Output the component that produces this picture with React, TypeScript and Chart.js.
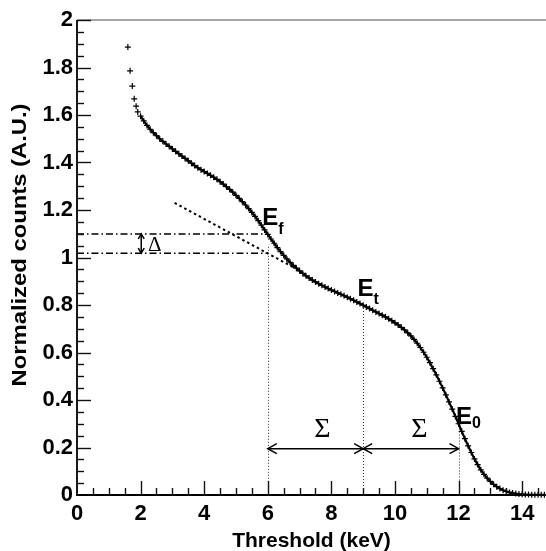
import { useEffect, useRef } from "react";
import { Chart, registerables } from "chart.js";

Chart.register(...registerables);

// ---- data ----
const THRESHOLD_KEV = [
  1.6, 1.67, 1.74, 1.8, 1.86, 1.91,
  2.0, 2.1, 2.2, 2.3, 2.4, 2.5, 2.6, 2.7, 2.8, 2.9,
  3.0, 3.1, 3.2, 3.3, 3.4, 3.5, 3.6, 3.7, 3.8, 3.9,
  4.0, 4.1, 4.2, 4.3, 4.4, 4.5, 4.6, 4.7, 4.8, 4.9,
  5.0, 5.1, 5.2, 5.3, 5.4, 5.5, 5.6, 5.7, 5.8, 5.9,
  6.0, 6.1, 6.2, 6.3, 6.4, 6.5, 6.6, 6.7, 6.8, 6.9,
  7.0, 7.1, 7.2, 7.3, 7.4, 7.5, 7.6, 7.7, 7.8, 7.9,
  8.0, 8.1, 8.2, 8.3, 8.4, 8.5, 8.6, 8.7, 8.8, 8.9,
  9.0, 9.1, 9.2, 9.3, 9.4, 9.5, 9.6, 9.7, 9.8, 9.9,
  10.0, 10.1, 10.2, 10.3, 10.4, 10.5, 10.6, 10.7, 10.8, 10.9,
  11.0, 11.1, 11.2, 11.3, 11.4, 11.5, 11.6, 11.7, 11.8, 11.9,
  12.0, 12.1, 12.2, 12.3, 12.4, 12.5, 12.6, 12.7, 12.8, 12.9,
  13.0, 13.1, 13.2, 13.3, 13.4, 13.5, 13.6, 13.7, 13.8, 13.9,
  14.0, 14.1, 14.2, 14.3, 14.4, 14.5, 14.6, 14.7,
];

const NORMALIZED_COUNTS = [
  1.886, 1.786, 1.722, 1.668, 1.637, 1.613,
  1.595, 1.575, 1.556, 1.54, 1.526, 1.513, 1.5, 1.489, 1.478, 1.468,
  1.457, 1.447, 1.437, 1.427, 1.417, 1.407, 1.397, 1.387, 1.378, 1.37,
  1.362, 1.354, 1.346, 1.338, 1.329, 1.319, 1.309, 1.298, 1.287, 1.275,
  1.262, 1.249, 1.235, 1.221, 1.206, 1.19, 1.173, 1.155, 1.136, 1.116,
  1.097, 1.078, 1.06, 1.042, 1.025, 1.009, 0.994, 0.98, 0.967, 0.955,
  0.944, 0.933, 0.923, 0.914, 0.905, 0.897, 0.89, 0.883, 0.876, 0.869,
  0.863, 0.857, 0.851, 0.845, 0.839, 0.833, 0.826, 0.82, 0.813, 0.806,
  0.799, 0.792, 0.785, 0.778, 0.771, 0.764, 0.757, 0.75, 0.742, 0.734,
  0.725, 0.716, 0.706, 0.695, 0.683, 0.67, 0.655, 0.639, 0.621, 0.601,
  0.58, 0.557, 0.532, 0.506, 0.479, 0.451, 0.422, 0.392, 0.362, 0.331,
  0.3, 0.268, 0.237, 0.207, 0.179, 0.152, 0.128, 0.106, 0.087, 0.071,
  0.057, 0.045, 0.035, 0.027, 0.02, 0.015, 0.011, 0.008, 0.006, 0.004,
  0.003, 0.002, 0.002, 0.001, 0.001, 0.001, 0.001, 0.001,
];

const X_TICK_VALUES = [0, 2, 4, 6, 8, 10, 12, 14];
const Y_TICK_VALUES = [0, 0.2, 0.4, 0.6, 0.8, 1, 1.2, 1.4, 1.6, 1.8, 2];
const X_MIN = 0;
const X_MAX = 14.75;
const Y_MIN = 0;
const Y_MAX = 2;
const X_MINOR_STEP = 0.5;
const Y_MINOR_STEP = 0.05;
const X_TITLE = "Threshold (keV)";
const Y_TITLE = "Normalized counts (A.U.)";

// ---- annotations (data units) ----
const E_F = 6;
const E_T = 9;
const E_0 = 12;
const LEVEL_HIGH = 1.099;
const LEVEL_LOW = 1.018;
const TANGENT_START = { x: 3.07, y: 1.23 };
const TANGENT_END = { x: 6.84, y: 0.956 };
const DELTA_ARROW_X = 2.02;
const SIGMA_ARROW_Y = 0.195;
const VLINE_TOPS = [
  { x: E_F, y: 1.045 },
  { x: E_T, y: 0.8 },
  { x: E_0, y: 0.28 },
];
const E_LABELS = [
  { x: 5.83, y: 1.136, sub: "f", dx: 16, dy: 9 },
  { x: 8.82, y: 0.836, sub: "t", dx: 16, dy: 8 },
  { x: 11.92, y: 0.3, sub: "0", dx: 16, dy: 4 },
];
const SIGMA_LABELS = [
  { x: 7.72, y: 0.243 },
  { x: 10.77, y: 0.243 },
];
const DELTA_LABEL = { x: 2.23, y: 1.027 };

const SANS = '"Liberation Sans", Arial, Helvetica, sans-serif';
const SERIF = '"Liberation Serif", "Times New Roman", serif';

function arrowHead(ctx: CanvasRenderingContext2D, tx: number, ty: number, dx: number, dy: number, len: number, half: number) {
  const px = -dy;
  const py = dx;
  ctx.beginPath();
  ctx.moveTo(tx - dx * len + px * half, ty - dy * len + py * half);
  ctx.lineTo(tx, ty);
  ctx.lineTo(tx - dx * len - px * half, ty - dy * len - py * half);
  ctx.stroke();
}

const overlayPlugin = {
  id: "overlay",
  beforeDatasetsDraw(chart: any) {
    const ctx: CanvasRenderingContext2D = chart.ctx;
    const xs = chart.scales.x;
    const ys = chart.scales.y;
    const X = (v: number) => xs.getPixelForValue(v);
    const Y = (v: number) => ys.getPixelForValue(v);
    ctx.save();
    ctx.strokeStyle = "#000";

    // dash-dot levels
    ctx.lineWidth = 1.3;
    ctx.setLineDash([7, 3, 1.5, 3]);
    [LEVEL_HIGH, LEVEL_LOW].forEach((lv) => {
      ctx.beginPath();
      ctx.moveTo(X(X_MIN), Y(lv));
      ctx.lineTo(X(E_F), Y(lv));
      ctx.stroke();
    });

    // tangent
    ctx.lineWidth = 2;
    ctx.setLineDash([2.5, 3]);
    ctx.beginPath();
    ctx.moveTo(X(TANGENT_START.x), Y(TANGENT_START.y));
    ctx.lineTo(X(TANGENT_END.x), Y(TANGENT_END.y));
    ctx.stroke();

    // vertical dotted lines
    ctx.lineWidth = 1;
    ctx.strokeStyle = "#333";
    ctx.setLineDash([1, 2]);
    VLINE_TOPS.forEach((p) => {
      ctx.beginPath();
      ctx.moveTo(Math.round(X(p.x)) + 0.5, Y(p.y));
      ctx.lineTo(Math.round(X(p.x)) + 0.5, Y(0));
      ctx.stroke();
    });

    // sigma arrows
    ctx.setLineDash([]);
    ctx.strokeStyle = "#000";
    ctx.lineWidth = 1.5;
    const ay = Y(SIGMA_ARROW_Y);
    [[E_F, E_T], [E_T, E_0]].forEach(([a, b]) => {
      ctx.beginPath();
      ctx.moveTo(X(a), ay);
      ctx.lineTo(X(b), ay);
      ctx.stroke();
      arrowHead(ctx, X(a), ay, -1, 0, 9, 5);
      arrowHead(ctx, X(b), ay, 1, 0, 9, 5);
    });

    // delta arrow
    const dxp = X(DELTA_ARROW_X);
    ctx.beginPath();
    ctx.moveTo(dxp, Y(LEVEL_HIGH));
    ctx.lineTo(dxp, Y(LEVEL_LOW));
    ctx.stroke();
    arrowHead(ctx, dxp, Y(LEVEL_HIGH), 0, -1, 5, 3);
    arrowHead(ctx, dxp, Y(LEVEL_LOW), 0, 1, 5, 3);

    // labels
    ctx.fillStyle = "#000";
    ctx.textAlign = "left";
    ctx.textBaseline = "alphabetic";
    E_LABELS.forEach((l) => {
      ctx.font = `bold 24px ${SANS}`;
      ctx.fillText("E", X(l.x), Y(l.y));
      ctx.font = `bold 16px ${SANS}`;
      ctx.fillText(l.sub, X(l.x) + l.dx, Y(l.y) + l.dy);
    });
    ctx.font = `28px ${SERIF}`;
    ctx.textAlign = "center";
    SIGMA_LABELS.forEach((l) => ctx.fillText("\u03A3", X(l.x), Y(l.y)));
    ctx.font = `21px ${SERIF}`;
    ctx.textAlign = "left";
    ctx.fillText("\u0394", X(DELTA_LABEL.x), Y(DELTA_LABEL.y));
    ctx.restore();
  },
  afterDatasetsDraw(chart: any) {
    const ctx: CanvasRenderingContext2D = chart.ctx;
    const xs = chart.scales.x;
    const ys = chart.scales.y;
    const area = chart.chartArea;
    const left = area.left;
    const right = area.right;
    const top = area.top;
    const bottom = area.bottom;
    ctx.save();
    ctx.setLineDash([]);
    // top frame (grey)
    ctx.strokeStyle = "#8a8a8a";
    ctx.lineWidth = 1.5;
    ctx.beginPath();
    ctx.moveTo(left, top);
    ctx.lineTo(right, top);
    ctx.stroke();
    // axes
    ctx.strokeStyle = "#000";
    ctx.lineWidth = 1.8;
    ctx.beginPath();
    ctx.moveTo(left, top);
    ctx.lineTo(left, bottom);
    ctx.lineTo(right, bottom);
    ctx.stroke();
    // ticks inside the frame
    ctx.lineWidth = 1.4;
    ctx.strokeStyle = "#111";
    const nx = Math.floor((X_MAX - X_MIN) / X_MINOR_STEP + 1e-6);
    for (let i = 1; i <= nx; i++) {
      const v = X_MIN + i * X_MINOR_STEP;
      const major = X_TICK_VALUES.some((t) => Math.abs(t - v) < 1e-6);
      const p = Math.round(xs.getPixelForValue(v)) + 0.5;
      ctx.beginPath();
      ctx.moveTo(p, bottom);
      ctx.lineTo(p, bottom - (major ? 14 : 7));
      ctx.stroke();
    }
    const ny = Math.floor((Y_MAX - Y_MIN) / Y_MINOR_STEP + 1e-6);
    for (let i = 1; i <= ny; i++) {
      const v = Y_MIN + i * Y_MINOR_STEP;
      const major = Y_TICK_VALUES.some((t) => Math.abs(t - v) < 1e-6);
      const p = Math.round(ys.getPixelForValue(v)) + 0.5;
      ctx.beginPath();
      ctx.moveTo(left, p);
      ctx.lineTo(left + (major ? 14 : 7), p);
      ctx.stroke();
    }
    // y title (stretched along the text like the reference)
    ctx.fillStyle = "#000";
    ctx.font = `bold 20px ${SANS}`;
    ctx.textAlign = "center";
    ctx.textBaseline = "middle";
    ctx.translate(20, 245);
    ctx.rotate(-Math.PI / 2);
    ctx.scale(1.19, 1);
    ctx.fillText(Y_TITLE, 0, 0);
    ctx.restore();
  },
};

export default function App() {
  const canvasRef = useRef<HTMLCanvasElement | null>(null);

  useEffect(() => {
    if (!canvasRef.current) return;
    const points = THRESHOLD_KEV.map((x, i) => ({ x, y: NORMALIZED_COUNTS[i] }));
    const chart = new Chart(canvasRef.current, {
      type: "scatter",
      data: {
        datasets: [
          {
            data: points,
            showLine: true,
            borderColor: "#000",
            borderWidth: 2.2,
            pointStyle: "cross",
            pointRadius: 3,
            pointBorderWidth: 1.2,
            pointBorderColor: "#000",
            pointBackgroundColor: "#000",
            clip: false,
            segment: {
              borderColor: (c: any) => (c.p0.parsed.x < 1.95 ? "rgba(0,0,0,0)" : "#000"),
            },
          } as any,
        ],
      },
      options: {
        animation: false,
        responsive: true,
        maintainAspectRatio: false,
        layout: { autoPadding: false, padding: { top: 20, right: 0, left: 0, bottom: 0 } },
        plugins: { legend: { display: false }, tooltip: { enabled: false } },
        scales: {
          x: {
            type: "linear",
            min: X_MIN,
            max: X_MAX,
            grid: { display: false, drawTicks: false },
            border: { display: false },
            afterBuildTicks: (s: any) => {
              s.ticks = X_TICK_VALUES.map((v) => ({ value: v }));
            },
            afterFit: (s: any) => {
              s.height = 56;
              s.paddingLeft = 0;
              s.paddingRight = 0;
            },
            ticks: {
              color: "#000",
              padding: 6,
              maxRotation: 0,
              autoSkip: false,
              font: { family: SANS, size: 22, weight: "bold" },
              callback: (v: any) => String(v),
            },
            title: {
              display: true,
              text: X_TITLE,
              color: "#000",
              font: { family: SANS, size: 21, weight: "bold" },
              padding: { top: 0, bottom: -3 },
            },
          },
          y: {
            type: "linear",
            min: Y_MIN,
            max: Y_MAX,
            grid: { display: false, drawTicks: false },
            border: { display: false },
            afterBuildTicks: (s: any) => {
              s.ticks = Y_TICK_VALUES.map((v) => ({ value: v }));
            },
            afterFit: (s: any) => {
              s.width = 77;
              s.paddingTop = 0;
              s.paddingBottom = 0;
            },
            ticks: {
              color: "#000",
              padding: 4,
              autoSkip: false,
              font: { family: SANS, size: 22, weight: "bold" },
              callback: (v: any) => String(Math.round(Number(v) * 10) / 10),
            },
          },
        },
      },
      plugins: [overlayPlugin],
    });
    return () => chart.destroy();
  }, []);

  return (
    <div style={{ position: "fixed", left: 0, top: 0, width: 546, height: 551, background: "#fff" }}>
      <canvas ref={canvasRef} />
    </div>
  );
}
